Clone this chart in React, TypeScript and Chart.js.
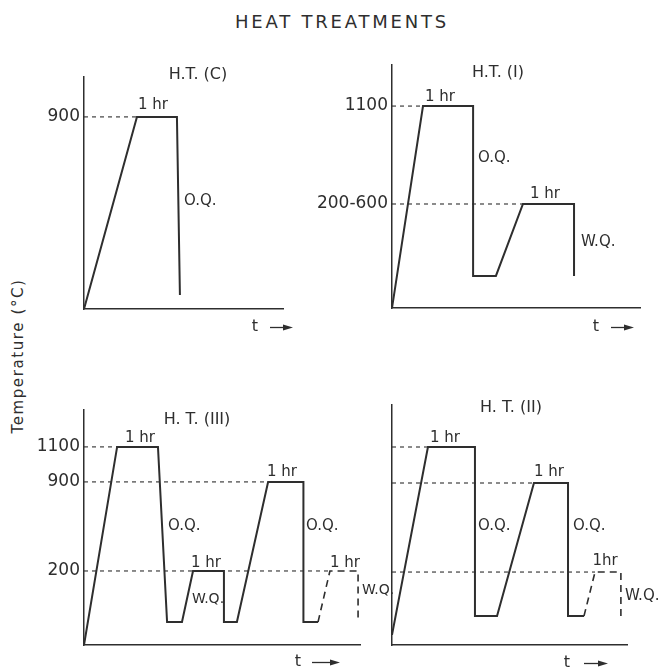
import React, { useEffect, useRef } from 'react';
import { Chart, registerables, LinearScale } from 'chart.js';

Chart.register(...registerables);

// ---------- DATA (schematic time units 0-100, temperature in °C) ----------
// H.T. (C)
const timeC = [0, 26.6, 46.7, 48.2];
const tempC = [0, 900, 900, 25];
const refLevelsC = [900];
const refEndsC = [26.6];
const tickValsC = [900];
const tickLabelsC = ['900'];

// H.T. (I)
const timeI = [0, 12.5, 32.7, 32.7, 41.9, 52.8, 73.4, 73.4];
const tempI = [0, 1100, 1100, 25, 25, 400, 400, 25];
const refLevelsI = [1100, 400];
const refEndsI = [12.5, 52.8];
const tickValsI = [1100, 400];
const tickLabelsI = ['1100', '200-600'];

// H.T. (III)
const timeIII = [0, 12.0, 26.8, 30.1, 35.5, 39.5, 50.7, 50.7, 55.4, 66.7, 79.5, 79.5, 84.8];
const tempIII = [0, 1100, 1100, 25, 25, 200, 200, 25, 25, 900, 900, 25, 25];
const timeIIIdash = [84.8, 89.1, 99.3, 99.3];
const tempIIIdash = [25, 200, 200, 25];
const refLevelsIII = [1100, 900, 200];
const refEndsIII = [12.0, 66.7, 89.1];
const tickValsIII = [1100, 900, 200];
const tickLabelsIII = ['1100', '900', '200'];

// H.T. (II)
const timeII = [0, 15.3, 35.3, 35.3, 44.7, 60.4, 74.9, 74.9, 81.7];
const tempII = [0, 1100, 1100, 25, 25, 900, 900, 25, 25];
const timeIIdash = [81.7, 86.4, 97.4, 97.4];
const tempIIdash = [25, 200, 200, 25];
const refLevelsII = [1100, 900, 200];
const refEndsII = [15.3, 60.4, 86.4];
const tickValsII: number[] = [];
const tickLabelsII: string[] = [];

// ---------- schematic (piecewise) temperature scale ----------
class PiecewiseScale extends LinearScale {
  static id = 'piecewise';
  static defaults = {};
  toDecimal(v: number) {
    const s = (this.options as any).stops as number[][];
    if (v <= s[0][0]) return s[0][1];
    for (let i = 1; i < s.length; i++) {
      if (v <= s[i][0]) {
        const [v0, f0] = s[i - 1];
        const [v1, f1] = s[i];
        return f0 + ((v - v0) / (v1 - v0)) * (f1 - f0);
      }
    }
    return s[s.length - 1][1];
  }
  getPixelForValue(v: number) {
    return this.getPixelForDecimal(this.toDecimal(v));
  }
  getValueForPixel(p: number) {
    const d = this.getDecimalForPixel(p);
    const s = (this.options as any).stops as number[][];
    for (let i = 1; i < s.length; i++) {
      if (d <= s[i][1]) {
        const [v0, f0] = s[i - 1];
        const [v1, f1] = s[i];
        return v0 + ((d - f0) / (f1 - f0)) * (v1 - v0);
      }
    }
    return s[s.length - 1][0];
  }
}
Chart.register(PiecewiseScale as any);

const INK = '#2e2e2e';
const FONT = '"DejaVu Sans", "Liberation Sans", sans-serif';

type Note = { text: string; dx: number; dy: number; align?: CanvasTextAlign; size?: number };
type Arrow = { tx: number; a0: number; a1: number; y: number };

function makeNotes(notes: Note[], arrow: Arrow) {
  return {
    id: 'notes',
    afterDraw(chart: any) {
      const { ctx, chartArea } = chart;
      const L = chartArea.left;
      const T = chartArea.top;
      ctx.save();
      ctx.fillStyle = INK;
      ctx.strokeStyle = INK;
      ctx.textBaseline = 'middle';
      for (const n of notes) {
        ctx.font = `${n.size || 15}px ${FONT}`;
        ctx.textAlign = n.align || 'center';
        ctx.fillText(n.text, L + n.dx, T + n.dy);
      }
      // "t ->" axis label
      ctx.font = `16px ${FONT}`;
      ctx.textAlign = 'center';
      ctx.fillText('t', L + arrow.tx, T + arrow.y);
      const y = T + arrow.y + 0.5;
      ctx.lineWidth = 1.3;
      ctx.beginPath();
      ctx.moveTo(L + arrow.a0, y);
      ctx.lineTo(L + arrow.a1 - 6, y);
      ctx.stroke();
      ctx.beginPath();
      ctx.moveTo(L + arrow.a1, y);
      ctx.lineTo(L + arrow.a1 - 10, y - 3);
      ctx.lineTo(L + arrow.a1 - 10, y + 3);
      ctx.closePath();
      ctx.fill();
      ctx.restore();
    },
  };
}

type PanelCfg = {
  box: number[];
  area: number[];
  stops: number[][];
  time: number[];
  temp: number[];
  timeDash?: number[];
  tempDash?: number[];
  refLevels: number[];
  refEnds: number[];
  tickVals: number[];
  tickLabels: string[];
  notes: Note[];
  arrow: Arrow;
};

function Panel({ cfg }: { cfg: PanelCfg }) {
  const ref = useRef<HTMLCanvasElement>(null);
  useEffect(() => {
    const [cx, cy, cw, ch] = cfg.box;
    const [L, T, R, B] = cfg.area;
    const datasets: any[] = [];
    cfg.refLevels.forEach((lvl, i) => {
      datasets.push({
        data: [
          { x: 0, y: lvl },
          { x: cfg.refEnds[i], y: lvl },
        ],
        borderColor: INK,
        borderWidth: 1.1,
        borderDash: [4, 4],
        pointRadius: 0,
        tension: 0,
      });
    });
    datasets.push({
      data: cfg.time.map((t, i) => ({ x: t, y: cfg.temp[i] })),
      borderColor: INK,
      borderWidth: 2,
      pointRadius: 0,
      tension: 0,
      borderJoinStyle: 'miter',
    });
    if (cfg.timeDash && cfg.tempDash) {
      datasets.push({
        data: cfg.timeDash.map((t, i) => ({ x: t, y: cfg.tempDash![i] })),
        borderColor: INK,
        borderWidth: 1.6,
        borderDash: [7, 5],
        pointRadius: 0,
        tension: 0,
      });
    }
    const stops = cfg.stops;
    const chart = new Chart(ref.current!, {
      type: 'line',
      data: { datasets },
      plugins: [makeNotes(cfg.notes, cfg.arrow)],
      options: {
        animation: false,
        responsive: false,
        maintainAspectRatio: false,
        devicePixelRatio: 1,
        events: [],
        layout: {
          padding: { left: 0, top: T - cy, right: cx + cw - R, bottom: 0 },
        },
        plugins: {
          legend: { display: false },
          tooltip: { enabled: false },
          title: { display: false },
        },
        scales: {
          x: {
            type: 'linear',
            min: 0,
            max: 100,
            grid: { display: false, drawTicks: false },
            border: { display: true, color: INK, width: 1.5 },
            ticks: { display: false },
            afterFit: (s: any) => {
              s.height = cy + ch - B;
            },
          },
          y: {
            type: 'piecewise',
            stops,
            min: stops[0][0],
            max: stops[stops.length - 1][0],
            grid: { display: false, drawTicks: false },
            border: { display: true, color: INK, width: 1.5 },
            ticks: {
              display: cfg.tickVals.length > 0,
              autoSkip: false,
              padding: 4,
              color: INK,
              font: { family: FONT, size: 17 },
              callback: (v: any) => {
                const k = cfg.tickVals.indexOf(Number(v));
                return k >= 0 ? cfg.tickLabels[k] : '';
              },
            },
            afterBuildTicks: (s: any) => {
              s.ticks = cfg.tickVals.map((v) => ({ value: v }));
            },
            afterFit: (s: any) => {
              s.width = L - cx;
            },
          } as any,
        },
      } as any,
    });
    return () => chart.destroy();
  }, [cfg]);
  const [cx, cy, cw, ch] = cfg.box;
  return (
    <canvas
      ref={ref}
      width={cw}
      height={ch}
      style={{ position: 'absolute', left: cx, top: cy, width: cw, height: ch }}
    />
  );
}

const panels: PanelCfg[] = [
  {
    box: [0, 40, 340, 300],
    area: [84, 77, 283, 309],
    stops: [
      [0, 0],
      [25, 0.06],
      [900, 0.828],
      [1100, 1],
    ],
    time: timeC,
    temp: tempC,
    refLevels: refLevelsC,
    refEnds: refEndsC,
    tickVals: tickValsC,
    tickLabels: tickLabelsC,
    notes: [
      { text: 'H.T. (C)', dx: 114, dy: -2, size: 16 },
      { text: '1 hr', dx: 69, dy: 28 },
      { text: 'O.Q.', dx: 100, dy: 124, align: 'left' },
    ],
    arrow: { tx: 171, a0: 186, a1: 209, y: 250 },
  },
  {
    box: [300, 40, 358, 300],
    area: [392, 65, 640, 308],
    stops: [
      [0, 0],
      [25, 0.132],
      [400, 0.428],
      [1100, 0.831],
      [1400, 1],
    ],
    time: timeI,
    temp: tempI,
    refLevels: refLevelsI,
    refEnds: refEndsI,
    tickVals: tickValsI,
    tickLabels: tickLabelsI,
    notes: [
      { text: 'H.T. (I)', dx: 106, dy: 8, size: 16 },
      { text: '1 hr', dx: 48, dy: 32 },
      { text: 'O.Q.', dx: 86, dy: 93, align: 'left' },
      { text: '1 hr', dx: 153, dy: 129 },
      { text: 'W.Q.', dx: 189, dy: 177, align: 'left' },
    ],
    arrow: { tx: 204, a0: 219, a1: 242, y: 262 },
  },
  {
    box: [0, 380, 400, 290],
    area: [84, 410, 360, 645],
    stops: [
      [0, 0],
      [25, 0.098],
      [200, 0.315],
      [900, 0.694],
      [1100, 0.843],
      [1300, 1],
    ],
    time: timeIII,
    temp: tempIII,
    timeDash: timeIIIdash,
    tempDash: tempIIIdash,
    refLevels: refLevelsIII,
    refEnds: refEndsIII,
    tickVals: tickValsIII,
    tickLabels: tickLabelsIII,
    notes: [
      { text: 'H. T. (III)', dx: 113, dy: 10, size: 16 },
      { text: '1 hr', dx: 56, dy: 28 },
      { text: 'O.Q.', dx: 84, dy: 116, align: 'left' },
      { text: '1 hr', dx: 122, dy: 153 },
      { text: 'W.Q.', dx: 124, dy: 189, size: 14 },
      { text: '1 hr', dx: 198, dy: 62 },
      { text: 'O.Q.', dx: 222, dy: 116, align: 'left' },
      { text: '1 hr', dx: 261, dy: 153 },
      { text: 'W.Q.', dx: 278, dy: 180, align: 'left', size: 14 },
    ],
    arrow: { tx: 214, a0: 228, a1: 256, y: 252 },
  },
  {
    box: [380, 380, 278, 290],
    area: [392, 405, 627, 645],
    stops: [
      [0, 0.042],
      [25, 0.121],
      [200, 0.304],
      [900, 0.675],
      [1100, 0.825],
      [1300, 1],
    ],
    time: timeII,
    temp: tempII,
    timeDash: timeIIdash,
    tempDash: tempIIdash,
    refLevels: refLevelsII,
    refEnds: refEndsII,
    tickVals: tickValsII,
    tickLabels: tickLabelsII,
    notes: [
      { text: 'H. T. (II)', dx: 119, dy: 3, size: 16 },
      { text: '1 hr', dx: 53, dy: 33 },
      { text: 'O.Q.', dx: 86, dy: 121, align: 'left' },
      { text: '1 hr', dx: 157, dy: 67 },
      { text: 'O.Q.', dx: 181, dy: 121, align: 'left' },
      { text: '1hr', dx: 213, dy: 156 },
      { text: 'W.Q.', dx: 233, dy: 191, align: 'left' },
    ],
    arrow: { tx: 175, a0: 192, a1: 216, y: 258 },
  },
];

export default function App() {
  return (
    <div
      style={{
        position: 'absolute',
        left: 0,
        top: 0,
        width: 658,
        height: 670,
        background: '#ffffff',
        overflow: 'hidden',
        fontFamily: FONT,
        color: INK,
      }}
    >
      <div
        style={{
          position: 'absolute',
          left: 342,
          top: 22,
          transform: 'translate(-50%, -50%)',
          fontSize: 18,
          letterSpacing: '2.8px',
          whiteSpace: 'nowrap',
          lineHeight: 1,
        }}
      >
        HEAT TREATMENTS
      </div>
      <div
        style={{
          position: 'absolute',
          left: 18,
          top: 356,
          transform: 'translate(-50%, -50%) rotate(-90deg)',
          fontSize: 15,
          letterSpacing: '1.6px',
          whiteSpace: 'nowrap',
          lineHeight: 1,
        }}
      >
        Temperature (°C)
      </div>
      {panels.map((p, i) => (
        <Panel key={i} cfg={p} />
      ))}
    </div>
  );
}
